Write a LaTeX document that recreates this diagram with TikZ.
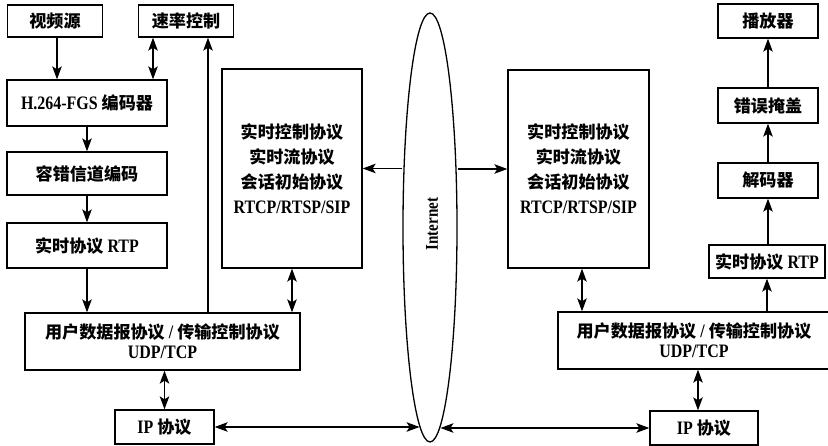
\documentclass[tikz,border=0pt]{standalone}
\usepackage{fontspec}
\setmainfont{Liberation Serif}[FakeStretch=0.84]
\newfontfamily\cjk{Noto Sans CJK SC}[Scale=0.9]
\usetikzlibrary{arrows.meta,shapes.geometric,calc}
\tikzset{
  box/.style={draw, line width=1.3pt, inner sep=0pt, align=center, font=\bfseries\fontsize{19}{20}\selectfont},
  tall/.style={box, font=\bfseries\fontsize{19}{25}\selectfont},
  tip/.tip={Stealth[length=13pt,width=9.5pt,inset=3pt]},
  arr/.style={line width=1.3pt, -tip},
  darr/.style={line width=1.3pt, tip-tip},
}
\begin{document}
\begin{tikzpicture}[x=1pt,y=-1pt]
\useasboundingbox (0,0) rectangle (828,446);
% left column
\node[box, minimum width=95pt, minimum height=32pt] (src) at (55,21) {\cjk 视频源};
\node[box, minimum width=95pt, minimum height=32pt] (rate) at (186,21) {\cjk 速率控制};
\node[box, minimum width=160pt, minimum height=46pt] (enc) at (87,103) {H.264-FGS {\cjk 编码器}};
\node[box, minimum width=160pt, minimum height=43pt] (fec) at (87,173.5) {\cjk 容错信道编码};
\node[box, minimum width=160pt, minimum height=45pt] (rtpL) at (87,245.5) {{\cjk 实时协议} RTP};
\node[box, minimum width=275pt, minimum height=57pt] (udpL) at (162.5,341.5) {{\cjk 用户数据报协议} / {\cjk 传输控制协议}\\UDP/TCP};
\node[box, minimum width=99pt, minimum height=34pt] (ipL) at (164.5,427) {IP {\cjk 协议}};
\node[tall, minimum width=140pt, minimum height=199pt] (ctrlL) at (292,168.5) {{\cjk 实时控制协议}\\{\cjk 实时流协议}\\{\cjk 会话初始协议}\\RTCP/RTSP/SIP};
% internet
\node[draw, line width=1.3pt, ellipse, inner sep=0pt, minimum width=54pt, minimum height=429pt] (net) at (430,227.5) {};
\node[rotate=90, font=\bfseries\fontsize{18}{20}\selectfont] (netlabel) at (432,224) {Internet};
% right side
\node[tall, minimum width=141pt, minimum height=198pt] (ctrlR) at (578.5,169) {{\cjk 实时控制协议}\\{\cjk 实时流协议}\\{\cjk 会话初始协议}\\RTCP/RTSP/SIP};
\node[box, minimum width=272pt, minimum height=57pt] (udpR) at (694,340.5) {{\cjk 用户数据报协议} / {\cjk 传输控制协议}\\UDP/TCP};
\node[box, minimum width=108pt, minimum height=34pt] (ipR) at (704,428) {IP {\cjk 协议}};
\node[box, minimum width=100pt, minimum height=34pt] (play) at (768,21) {\cjk 播放器};
\node[box, minimum width=100pt, minimum height=35pt] (conceal) at (768,105.5) {\cjk 错误掩盖};
\node[box, minimum width=100pt, minimum height=35pt] (dec) at (768,180.5) {\cjk 解码器};
\node[box, minimum width=116pt, minimum height=33pt] (rtpR) at (767,261.5) {{\cjk 实时协议} RTP};
% helper x positions
\coordinate (xa) at (57,0);
\coordinate (xb) at (153,0);
\coordinate (xc) at (208,0);
\coordinate (xd) at (582,0);
\coordinate (xe) at (698,0);
% left connectors
\draw[arr] (src.south -| xa) -- (enc.north -| xa);
\draw[darr] (rate.south -| xb) -- (enc.north -| xb);
\draw[arr] (udpL.north -| xc) -- (rate.south -| xc);
\draw[arr] (enc.south) -- (fec.north);
\draw[arr] (fec.south) -- (rtpL.north);
\draw[arr] (rtpL.south) -- (rtpL.south |- udpL.north);
\draw[darr] (ctrlL.south) -- (ctrlL.south |- udpL.north);
\draw[darr] (udpL.south -| ipL.north) -- (ipL.north);
% internet connectors
\draw[arr] (net.west |- ctrlL.east) -- (ctrlL.east);
\draw[arr] (net.east |- ctrlR.west) -- (ctrlR.west);
\draw[darr] (ipL.east) -- (ipL.east -| net.267);
\draw[darr] (net.273 |- ipR.west) -- (ipR.west);
% right connectors
\draw[darr] (ctrlR.south -| xd) -- (udpR.north -| xd);
\draw[darr] (udpR.south -| xe) -- (ipR.north -| xe);
\draw[arr] (udpR.north -| rtpR.south) -- (rtpR.south);
\draw[arr] (rtpR.north -| dec.south) -- (dec.south);
\draw[arr] (dec.north) -- (conceal.south);
\draw[arr] (conceal.north) -- (play.south);
\end{tikzpicture}
\end{document}
